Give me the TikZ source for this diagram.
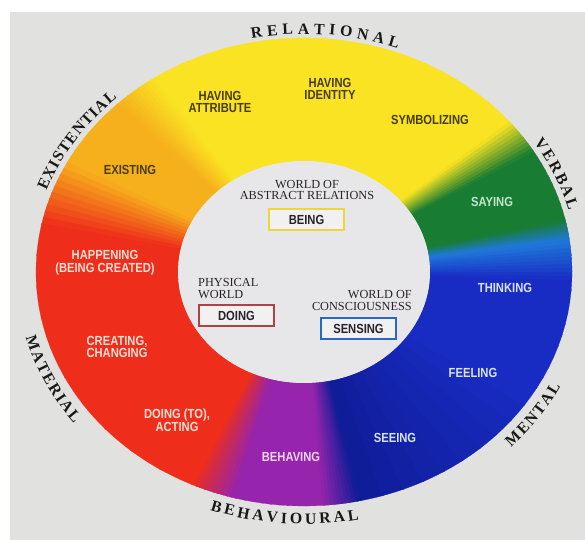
\documentclass[tikz,border=0pt]{standalone}
\usepackage{fontspec}
\usetikzlibrary{decorations.text}
\newfontfamily\labfont[FakeStretch=0.85]{Liberation Sans}
\newfontfamily\serfont{Liberation Serif}
\definecolor{bggray}{RGB}{225,225,223}
\definecolor{holegray}{RGB}{231,231,233}
\definecolor{ringyellow}{RGB}{250,227,35}
\definecolor{ringorange}{RGB}{246,176,28}
\definecolor{ringred}{RGB}{238,46,26}
\definecolor{ringpurple}{RGB}{150,36,172}
\definecolor{ringblue}{RGB}{24,44,196}
\definecolor{ringnavy}{RGB}{16,28,150}
\definecolor{ringsky}{RGB}{32,120,218}
\definecolor{ringgreen}{RGB}{24,124,50}
\definecolor{darktext}{RGB}{72,60,24}
\definecolor{lighttext}{RGB}{246,222,212}
\definecolor{bluetext}{RGB}{216,226,242}
\definecolor{greentext}{RGB}{196,228,208}
\definecolor{purpletext}{RGB}{240,212,240}
\definecolor{worldtext}{RGB}{40,36,40}
\definecolor{outertext}{RGB}{25,25,25}
\definecolor{beingline}{RGB}{236,214,60}
\definecolor{doingline}{RGB}{178,66,66}
\definecolor{sensingline}{RGB}{44,104,192}
\begin{document}
\begin{tikzpicture}[x=0.4mm, y=0.4mm]
    \tikzset{
      seg/.style={fill=#1, draw=#1, line width=0.2pt},
      ringlabel/.style={font=\labfont\bfseries\fontsize{15}{14.5}\selectfont, align=center, inner sep=0pt, text=#1},
      worldlabel/.style={font=\serfont\fontsize{14}{13}\selectfont, text=worldtext, inner sep=0pt},
      verbbox/.style={draw=#1, line width=1.3pt, fill=holegray!60!white, minimum width=30mm, minimum height=8.4mm, font=\labfont\bfseries\fontsize{15}{15}\selectfont, text=worldtext},
      kind/.style={decorate, decoration={text along path, text align={fit to path}, text color=outertext, text={|\serfont\bfseries\fontsize{18}{18}\selectfont|#1}}}
    }
    \useasboundingbox (0,0) rectangle (585,540);
    \fill[white] (0,0) rectangle (585,540);
    \fill[bggray] (10,0) rectangle (585,528);
    \begin{scope}[shift={(304,268)}]
    \foreach \angS/\angT/\colS/\colT in {-115/-105/ringred/ringpurple, -105/-86/ringpurple/ringpurple, -86/-78/ringpurple/ringnavy, -78/-30/ringnavy/ringblue, -30/-2/ringblue/ringblue, -2/8/ringblue/ringsky, 8/13/ringsky/ringgreen, 13/31/ringgreen/ringgreen, 31/40/ringgreen/ringyellow, 40/124/ringyellow/ringyellow, 124/134/ringyellow/ringorange, 134/152/ringorange/ringorange, 152/168/ringorange/ringred, 168/245/ringred/ringred}{
      \foreach \k in {0,...,9}{
        \pgfmathsetmacro\angA{\angS+(\angT-\angS)*\k/10}
        \pgfmathsetmacro\angB{\angS+(\angT-\angS)*(\k+1)/10+0.5}
        \pgfmathtruncatemacro\mixp{10*\k+5}
        \path[seg=\colT!\mixp!\colS] (\angA:126 and 111) -- (\angA:268 and 234) arc[start angle=\angA, end angle=\angB, x radius=268, y radius=234] -- (\angB:126 and 111) arc[start angle=\angB, end angle=\angA, x radius=126, y radius=111] -- cycle;
      }
    }
    \fill[holegray] (0,0) ellipse [x radius=126, y radius=111];
    \path[kind=RELATIONAL] (101:274 and 238) arc[start angle=101, end angle=70, x radius=274, y radius=238];
    \path[kind=EXISTENTIAL] (160:274 and 238) arc[start angle=160, end angle=133, x radius=274, y radius=238];
    \path[kind=VERBAL] (33:274 and 238) arc[start angle=33, end angle=15, x radius=274, y radius=238];
    \path[kind=MATERIAL] (195:288 and 252) arc[start angle=195, end angle=217, x radius=288, y radius=252];
    \path[kind=BEHAVIOURAL] (251:288 and 252) arc[start angle=251, end angle=281, x radius=288, y radius=252];
    \path[kind=MENTAL] (-44:288 and 252) arc[start angle=-44, end angle=-27, x radius=288, y radius=252];
    \end{scope}
    \node[ringlabel=darktext] (existing) at (130,370) {EXISTING};
    \node[ringlabel=darktext] (attribute) at (220,438) {HAVING\\ATTRIBUTE};
    \node[ringlabel=darktext] (identity) at (330,451) {HAVING\\IDENTITY};
    \node[ringlabel=darktext] (symbolizing) at (430,420) {SYMBOLIZING};
    \node[ringlabel=greentext] (saying) at (492,338) {SAYING};
    \node[ringlabel=bluetext] (thinking) at (505,252) {THINKING};
    \node[ringlabel=bluetext] (feeling) at (473,167) {FEELING};
    \node[ringlabel=bluetext] (seeing) at (395,102) {SEEING};
    \node[ringlabel=purpletext] (behaving) at (291,83) {BEHAVING};
    \node[ringlabel=lighttext] (acting) at (177,120) {DOING (TO),\\ACTING};
    \node[ringlabel=lighttext] (changing) at (117,193) {CREATING,\\CHANGING};
    \node[ringlabel=lighttext] (happening) at (105,277) {HAPPENING\\(BEING CREATED)};
    \node[worldlabel, align=center] (abstract) at (307,350) {WORLD OF\\ABSTRACT RELATIONS};
    \node[verbbox=beingline] (being) at (306.5,320.5) {BEING};
    \node[worldlabel, align=left, anchor=west] (physical) at (198,251.5) {PHYSICAL\\WORLD};
    \node[verbbox=doingline] (doing) at (236.5,224.5) {DOING};
    \node[worldlabel, align=right, anchor=east] (conscious) at (412,239.5) {WORLD OF\\CONSCIOUSNESS};
    \node[verbbox=sensingline] (sensing) at (358.5,211.5) {SENSING};
\end{tikzpicture}
\end{document}
